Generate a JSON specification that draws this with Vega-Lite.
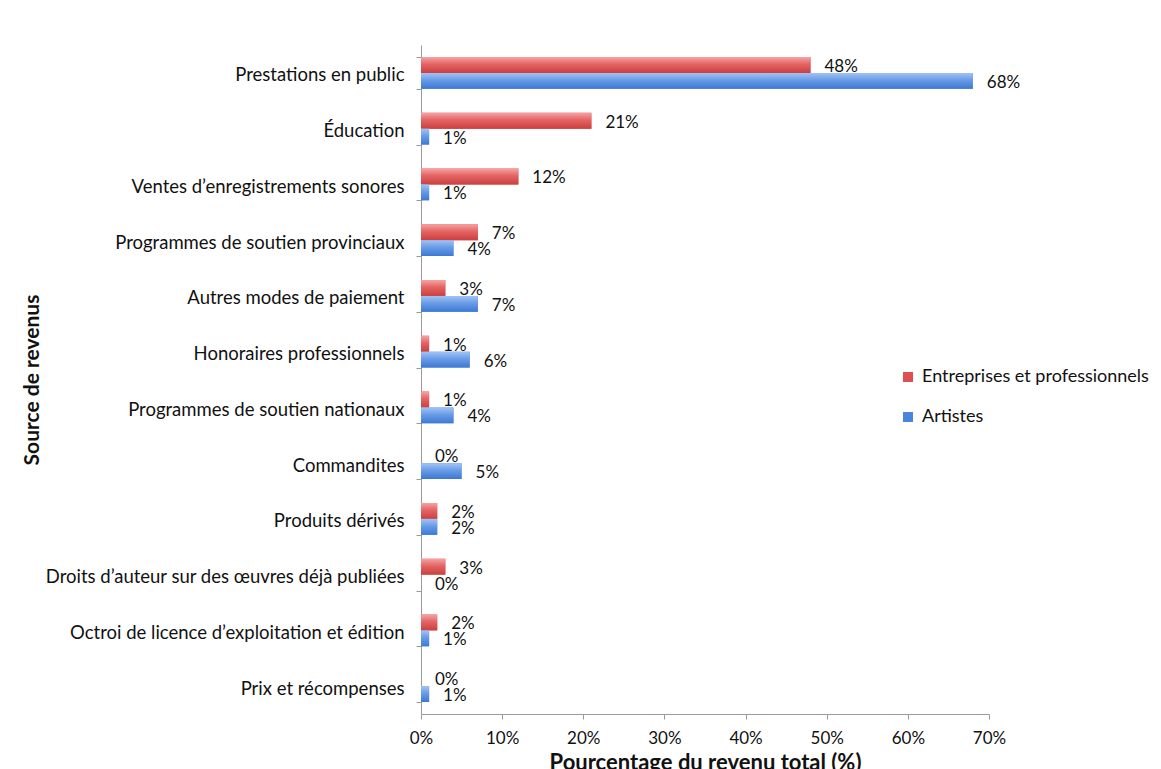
{
  "$schema": "https://vega.github.io/schema/vega-lite/v6.json",
  "width": 568,
  "height": 669,
  "autosize": {"type": "none"},
  "padding": {"left": 421, "top": 45, "right": 172, "bottom": 55},
  "background": "white",
  "config": {
    "view": {"stroke": null},
    "font": "Lato",
    "axis": {"labelFont": "Lato", "titleFont": "Lato", "labelColor": "#111111", "titleColor": "#111111", "domainColor": "#9a9a9a", "tickColor": "#9a9a9a", "grid": false},
    "legend": {"labelFont": "Lato", "labelColor": "#111111"}
  },
  "data": {
    "values": [
      {"source": "Prestations en public", "groupe": "Entreprises et professionnels", "pct": 0.48},
      {"source": "Prestations en public", "groupe": "Artistes", "pct": 0.68},
      {"source": "Éducation", "groupe": "Entreprises et professionnels", "pct": 0.21},
      {"source": "Éducation", "groupe": "Artistes", "pct": 0.01},
      {"source": "Ventes d’enregistrements sonores", "groupe": "Entreprises et professionnels", "pct": 0.12},
      {"source": "Ventes d’enregistrements sonores", "groupe": "Artistes", "pct": 0.01},
      {"source": "Programmes de soutien provinciaux", "groupe": "Entreprises et professionnels", "pct": 0.07},
      {"source": "Programmes de soutien provinciaux", "groupe": "Artistes", "pct": 0.04},
      {"source": "Autres modes de paiement", "groupe": "Entreprises et professionnels", "pct": 0.03},
      {"source": "Autres modes de paiement", "groupe": "Artistes", "pct": 0.07},
      {"source": "Honoraires professionnels", "groupe": "Entreprises et professionnels", "pct": 0.01},
      {"source": "Honoraires professionnels", "groupe": "Artistes", "pct": 0.06},
      {"source": "Programmes de soutien nationaux", "groupe": "Entreprises et professionnels", "pct": 0.01},
      {"source": "Programmes de soutien nationaux", "groupe": "Artistes", "pct": 0.04},
      {"source": "Commandites", "groupe": "Entreprises et professionnels", "pct": 0.0},
      {"source": "Commandites", "groupe": "Artistes", "pct": 0.05},
      {"source": "Produits dérivés", "groupe": "Entreprises et professionnels", "pct": 0.02},
      {"source": "Produits dérivés", "groupe": "Artistes", "pct": 0.02},
      {"source": "Droits d’auteur sur des œuvres déjà publiées", "groupe": "Entreprises et professionnels", "pct": 0.03},
      {"source": "Droits d’auteur sur des œuvres déjà publiées", "groupe": "Artistes", "pct": 0.0},
      {"source": "Octroi de licence d’exploitation et édition", "groupe": "Entreprises et professionnels", "pct": 0.02},
      {"source": "Octroi de licence d’exploitation et édition", "groupe": "Artistes", "pct": 0.01},
      {"source": "Prix et récompenses", "groupe": "Entreprises et professionnels", "pct": 0.0},
      {"source": "Prix et récompenses", "groupe": "Artistes", "pct": 0.01}
    ]
  },
  "encoding": {
    "y": {
      "field": "source",
      "type": "nominal",
      "sort": null,
      "scale": {"paddingInner": 0.43, "paddingOuter": 0.215},
      "axis": {
        "title": "Source de revenus",
        "titleFontSize": 21,
        "titleFontWeight": "bold",
        "titleAngle": -90,
        "titleX": -389,
        "titleY": 334.5,
        "titleAlign": "center",
        "titleBaseline": "middle",
        "labelFontSize": 18.5,
        "labelPadding": 12,
        "labelOffset": 2,
        "tickSize": 5,
        "tickBand": "extent",
        "labelLimit": 420,
        "domainWidth": 1
      }
    },
    "yOffset": {"field": "groupe", "type": "nominal", "sort": ["Entreprises et professionnels", "Artistes"]},
    "x": {
      "field": "pct",
      "type": "quantitative",
      "scale": {"domain": [0, 0.7], "nice": false},
      "axis": {
        "title": "Pourcentage du revenu total (%)",
        "titleFontSize": 22,
        "titleFontWeight": "bold",
        "titleX": 284,
        "titleY": 55,
        "titleAlign": "center",
        "titleBaseline": "alphabetic",
        "values": [0, 0.1, 0.2, 0.3, 0.4, 0.5, 0.6, 0.7],
        "format": ".0%",
        "labelFontSize": 17,
        "labelPadding": 11,
        "tickSize": 5,
        "labelFlush": false
      }
    }
  },
  "layer": [
    {
      "mark": {"type": "bar"},
      "encoding": {
        "color": {
          "field": "groupe",
          "type": "nominal",
          "sort": ["Entreprises et professionnels", "Artistes"],
          "scale": {"domain": ["Entreprises et professionnels", "Artistes"], "range": ["#dc5050", "#4a84dc"]},
          "legend": {
            "orient": "none",
            "legendX": 478,
            "legendY": 323,
            "title": null,
            "symbolType": "square",
            "symbolSize": 100,
            "symbolStrokeWidth": 0,
            "labelFontSize": 18,
            "labelLimit": 300,
            "rowPadding": 22,
            "labelOffset": 5,
            "padding": 0
          }
        }
      }
    },
    {
      "transform": [{"filter": "datum.groupe === 'Entreprises et professionnels'"}],
      "mark": {
        "type": "bar",
        "fill": {"gradient": "linear", "x1": 0, "y1": 0, "x2": 0, "y2": 1, "stops": [{"offset": 0, "color": "#f7a3a3"}, {"offset": 0.45, "color": "#e46464"}, {"offset": 1, "color": "#cc3f3f"}]}
      },
      "encoding": {}
    },
    {
      "transform": [{"filter": "datum.groupe === 'Artistes'"}],
      "mark": {
        "type": "bar",
        "fill": {"gradient": "linear", "x1": 0, "y1": 0, "x2": 0, "y2": 1, "stops": [{"offset": 0, "color": "#a2c4f6"}, {"offset": 0.45, "color": "#6a9ce6"}, {"offset": 1, "color": "#3c78d4"}]}
      },
      "encoding": {}
    },
    {
      "mark": {"type": "text", "align": "left", "baseline": "middle", "dx": 14, "dy": 2, "fontSize": 17, "color": "#111111"},
      "encoding": {
        "text": {"field": "pct", "type": "quantitative", "format": ".0%"}
      }
    }
  ]
}
